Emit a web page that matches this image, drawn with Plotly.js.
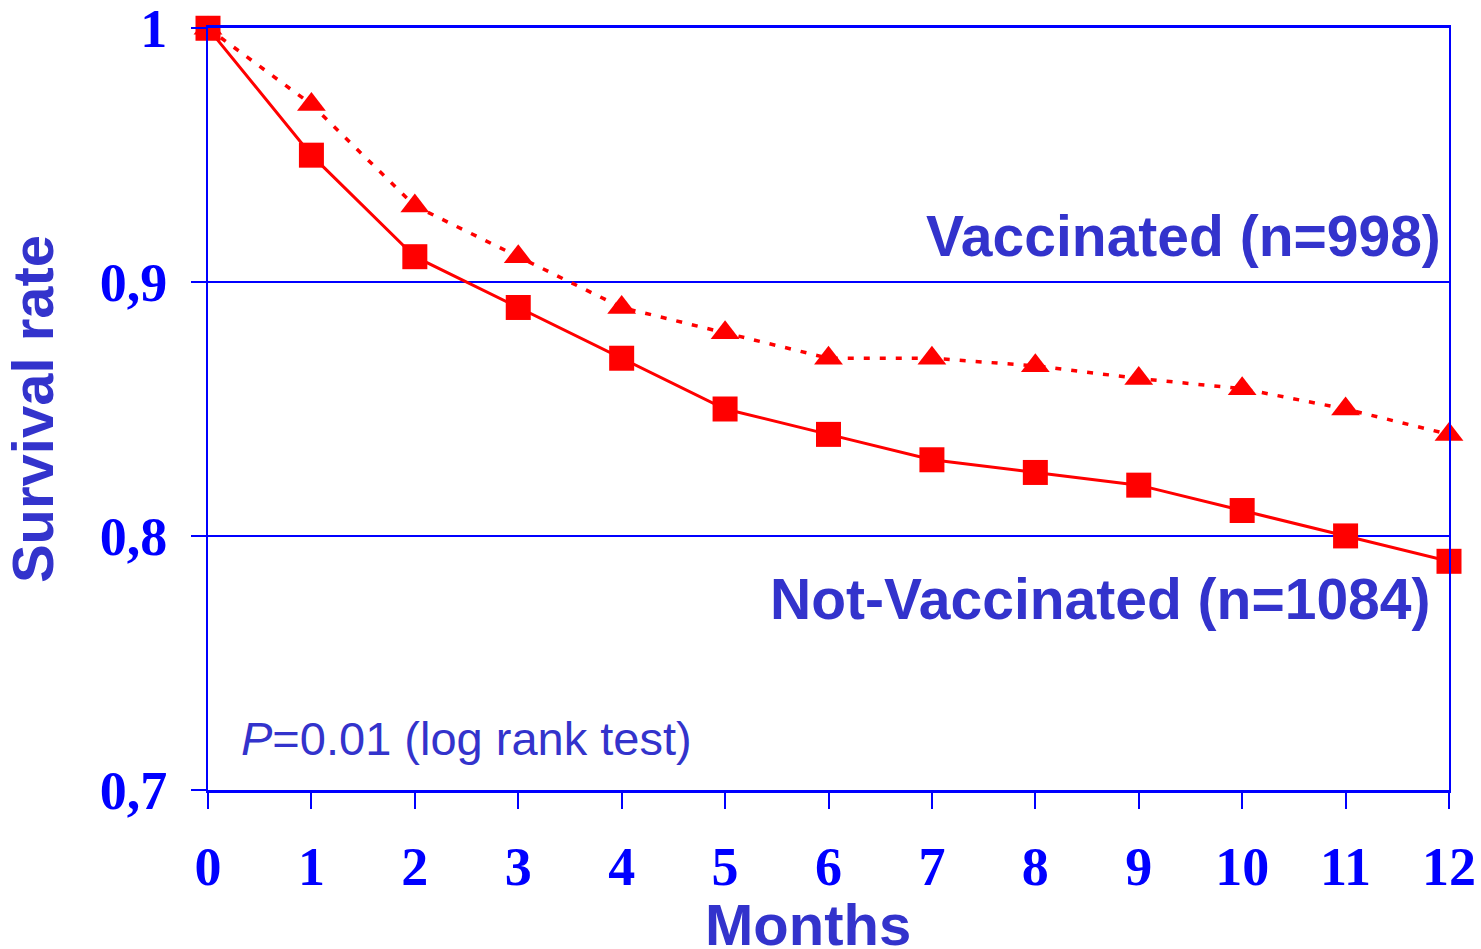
<!DOCTYPE html>
<html>
<head>
<meta charset="utf-8">
<script src="https://cdn.plot.ly/plotly-3.0.1.min.js"></script>
<style>html,body{margin:0;padding:0;background:#fff;}#chart{width:1481px;height:949px;}</style>
</head>
<body>
<div id="chart"></div>
<script>
const months = [0,1,2,3,4,5,6,7,8,9,10,11,12];
const vaccinated = [1.0,0.97,0.93,0.91,0.89,0.88,0.87,0.87,0.867,0.862,0.858,0.85,0.84];
const notVaccinated = [1.0,0.95,0.91,0.89,0.87,0.85,0.84,0.83,0.825,0.82,0.81,0.80,0.79];
const yTickVals = [0.7,0.8,0.9,1];
const yTickText = ['0,7','0,8','0,9','1'];
const xTickText = ['0','1','2','3','4','5','6','7','8','9','10','11','12'];

const red = '#FF0000';
const blue = '#0000FF';
const purple = '#3333CC';

const traces = [
  {x: months, y: vaccinated, name: 'Vaccinated (n=998)', mode: 'lines+markers', cliponaxis: false,
   line: {color: red, width: 3.5, dash: '6px,10px'},
   marker: {symbol: 'triangle-up', size: 25, color: red}},
  {x: months, y: notVaccinated, name: 'Not-Vaccinated (n=1084)', mode: 'lines+markers', cliponaxis: false,
   line: {color: red, width: 3},
   marker: {symbol: 'square', size: 25, color: red}}
];

const layout = {
  width: 1481, height: 949,
  margin: {l: 208, r: 32, t: 28, b: 159},
  paper_bgcolor: '#fff', plot_bgcolor: '#fff',
  showlegend: false,
  xaxis: {
    range: [0, 12], tickvals: months, ticktext: xTickText,
    showgrid: false, zeroline: false,
    showline: true, linecolor: blue, linewidth: 3, mirror: true,
    ticks: 'outside', ticklen: 16, tickcolor: blue, tickwidth: 2,
    ticklabelstandoff: 11, ticklabeloverflow: 'allow',
    tickfont: {family: 'Liberation Serif', size: 54, color: blue, weight: 'bold'}
  },
  yaxis: {
    range: [0.6999, 1.0001], tickvals: yTickVals, ticktext: yTickText,
    showgrid: true, gridcolor: blue, gridwidth: 1.5, zeroline: false,
    showline: true, linecolor: blue, linewidth: 2, mirror: true,
    ticks: 'outside', ticklen: 15, tickcolor: blue, tickwidth: 2,
    ticklabelstandoff: 13, ticklabeloverflow: 'allow',
    tickfont: {family: 'Liberation Serif', size: 54, color: blue, weight: 'bold'},
    title: {text: '<b>Survival rate</b>', standoff: 28,
            font: {family: 'Liberation Sans', size: 58, color: purple}}
  },
  annotations: [
    {x: 12, y: 0.918, xref: 'x', yref: 'y', xanchor: 'right', yanchor: 'middle', xshift: -6,
     text: '<b>Vaccinated (n=998)</b>', showarrow: false,
     font: {family: 'Liberation Sans', size: 57, color: purple}},
    {x: 12, y: 0.775, xref: 'x', yref: 'y', xanchor: 'right', yanchor: 'middle', xshift: -17,
     text: '<b>Not-Vaccinated (n=1084)</b>', showarrow: false,
     font: {family: 'Liberation Sans', size: 57, color: purple}},
    {x: 0.3, y: 0.72, xref: 'x', yref: 'y', xanchor: 'left', yanchor: 'middle',
     text: '<i>P</i>=0.01 (log rank test)', showarrow: false,
     font: {family: 'Liberation Sans', size: 47, color: purple}},
    {x: 5.8, y: 0, xref: 'x', yref: 'paper', xanchor: 'center', yanchor: 'middle', yshift: -134,
     text: '<b>Months</b>', showarrow: false,
     font: {family: 'Liberation Sans', size: 58, color: purple}}
  ]
};

Plotly.newPlot('chart', traces, layout, {displayModeBar: false, staticPlot: true});
</script>
</body>
</html>
